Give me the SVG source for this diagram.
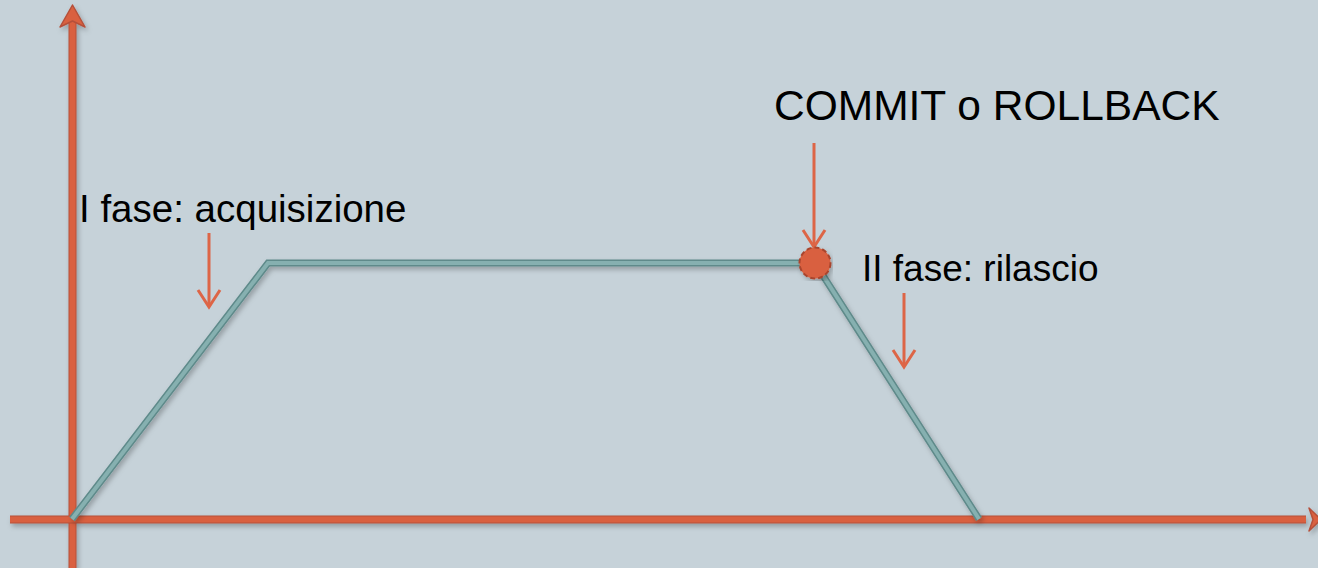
<svg xmlns="http://www.w3.org/2000/svg" width="1318" height="568" viewBox="0 0 1318 568">
<defs>
<style>
.axis{stroke:#d9613f;stroke-width:6;fill:none}
.axisEdge{stroke:#b5503a;stroke-width:8;fill:none}
.axhead{fill:#d9613f;stroke:#b5503a;stroke-width:1.5;stroke-linejoin:round}
.curveEdge{stroke:#5e8a8a;stroke-width:7;fill:none;stroke-linejoin:miter}
.curve{stroke:#86b0b0;stroke-width:4;fill:none;stroke-linejoin:miter}
.ptr{stroke:#dd6546;stroke-width:3;fill:none;stroke-linecap:butt}
.lbl{font-family:"Liberation Sans",Arial,sans-serif;fill:#000}
</style>
<filter id="sh" x="-5%" y="-5%" width="110%" height="110%">
<feDropShadow dx="2" dy="3" stdDeviation="2.5" flood-color="#000" flood-opacity="0.25"/>
</filter>
</defs>
<rect width="1318" height="568" fill="#c6d2d9"/>
<g id="connectors">
<g id="axes" filter="url(#sh)">
<line class="axisEdge" x1="72.5" y1="568" x2="72.5" y2="18"/>
<line class="axis" x1="72.5" y1="568" x2="72.5" y2="18"/>
<polygon class="axhead" points="72.5,5 85,27 72.5,21 60,27"/>
<line class="axisEdge" x1="10" y1="519.5" x2="1306" y2="519.5"/>
<line class="axis" x1="10" y1="519.5" x2="1306" y2="519.5"/>
<polygon class="axhead" points="1321,519.5 1309,508 1313,519.5 1309,531"/>
</g>
<g id="curve" filter="url(#sh)">
<polyline class="curveEdge" points="72,519 268,263 815,263 979,519"/>
<polyline class="curve" points="72,519 268,263 815,263 979,519"/>
</g>
<g id="pointer1">
<line class="ptr" x1="209" y1="233" x2="209" y2="306"/>
<polyline class="ptr" points="198,290 209,307 220,290"/>
</g>
<g id="pointer2">
<line class="ptr" x1="814" y1="143" x2="814" y2="246"/>
<polyline class="ptr" points="803,230 814,247 825,230"/>
</g>
<g id="pointer3">
<line class="ptr" x1="904" y1="293" x2="904" y2="366"/>
<polyline class="ptr" points="893,350 904,367 915,350"/>
</g>
</g>
<g id="commit-point" filter="url(#sh)">
<circle cx="815" cy="263" r="15.5" fill="#d9613f" stroke="#a9452e" stroke-width="2" stroke-dasharray="5,3"/>
</g>
<g id="label-commit">
<text class="lbl" x="774" y="120" font-size="42.5">COMMIT o ROLLBACK</text>
</g>
<g id="label-fase1">
<text class="lbl" x="79" y="222" font-size="38.5">I fase: acquisizione</text>
</g>
<g id="label-fase2">
<text class="lbl" x="862" y="281" font-size="37">II fase: rilascio</text>
</g>
</svg>
